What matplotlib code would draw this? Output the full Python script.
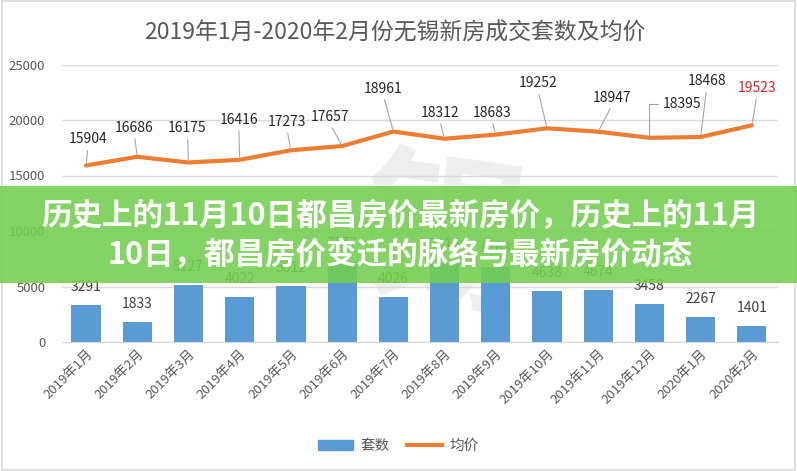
import matplotlib
matplotlib.use("Agg")
import matplotlib.pyplot as plt
from matplotlib.patches import Rectangle
from matplotlib.lines import Line2D
from matplotlib.patches import Patch
import numpy as np

plt.rcParams['font.family'] = ['Noto Sans CJK SC', 'DejaVu Sans']

# data
months = ["2019年1月", "2019年2月", "2019年3月", "2019年4月", "2019年5月", "2019年6月",
          "2019年7月", "2019年8月", "2019年9月", "2019年10月", "2019年11月", "2019年12月",
          "2020年1月", "2020年2月"]
units = [3291, 1833, 5127, 4022, 5012, 7177, 4026, 7114, 6763, 4638, 4674, 3458, 2267, 1401]
avg_price = [15904, 16686, 16175, 16416, 17273, 17657, 18961, 18312, 18683, 19252,
             18947, 18395, 18468, 19523]

title = "2019年1月-2020年2月份无锡新房成交套数及均价"
banner_line1 = "历史上的11月10日都昌房价最新房价，历史上的11月"
banner_line2 = "10日，都昌房价变迁的脉络与最新房价动态"

# label offsets for the price labels (pixels)
price_offsets = [(2, 26), (-3, 29), (-1, 34), (-1, 40), (-4, 28), (-12, 29), (-10, 43),
                 (-5, 26), (-4, 22), (-9, 45), (14, 34), (33, 34), (6, 56), (5, 37)]

bar_color = "#5b9bd5"
line_color = "#ed7d31"
grid_color = "#d9d9d9"
text_gray = "#595959"

fig = plt.figure(figsize=(7.97, 4.71), dpi=100)
ax = fig.add_axes([62 / 797, 1 - 342 / 471, (778 - 62) / 797, 277.5 / 471])

x = np.arange(len(months))

# faint watermark
ax.text(6.95, 9000, "锡", fontsize=120, color="#eeeeee", ha="center", va="center",
        rotation=-8, zorder=0.5, fontweight="bold")

ax.bar(x, units, width=0.57, color=bar_color, zorder=2)
ax.plot(x, avg_price, color=line_color, lw=3, zorder=3, solid_capstyle="round")

for xi, v in zip(x, units):
    ax.annotate(str(v), (xi, v), xytext=(0, 18), textcoords="offset pixels",
                ha="center", va="center", fontsize=10, color="#404040", zorder=4)

for i, (xi, v) in enumerate(zip(x, avg_price)):
    dx, dy = price_offsets[i]
    color = "#e0202a" if i == len(avg_price) - 1 else "#262626"
    if i == 11:
        arrow = dict(arrowstyle="-", color="#a6a6a6", lw=0.8, shrinkA=2, shrinkB=1,
                     relpos=(0, 0.5), connectionstyle="angle,angleA=180,angleB=90,rad=0")
    else:
        arrow = dict(arrowstyle="-", color="#a6a6a6", lw=0.8, shrinkA=1, shrinkB=2,
                     relpos=(0.5, 0))
    ax.annotate(str(v), (xi, v), xytext=(dx, dy), textcoords="offset pixels",
                ha="center", va="center", fontsize=10, color=color,
                arrowprops=arrow, zorder=4)

ax.set_xlim(-0.47, 13.51)
ax.set_ylim(0, 25000)
ax.set_yticks(range(0, 25001, 5000))
ax.yaxis.grid(True, color=grid_color, lw=1, zorder=0)
ax.set_axisbelow(True)
for s in ["top", "right", "left"]:
    ax.spines[s].set_visible(False)
ax.spines["bottom"].set_color(grid_color)
ax.tick_params(axis="y", length=0, pad=12, labelsize=9.5, labelcolor=text_gray)
ax.tick_params(axis="x", length=0, pad=4)
ax.set_xticks(x)
ax.set_xticklabels(months, rotation=45, ha="right", va="top", rotation_mode="anchor",
                   fontsize=9.5, color=text_gray)

fig.text(0.495, 0.93, title, ha="center", va="center", fontsize=16.5, color=text_gray)

# legend
handles = [Patch(color=bar_color), Line2D([0], [0], color=line_color, lw=3)]
fig.legend(handles, ["套数", "均价"], loc="center", bbox_to_anchor=(0.5, 0.053), ncol=2,
           frameon=False, fontsize=10.5, labelcolor=text_gray, handlelength=2.4,
           columnspacing=1.2, handletextpad=0.5)

# border
fig.patches.append(Rectangle((0.002, 0.003), 0.996, 0.994, transform=fig.transFigure,
                             fill=False, edgecolor="#d9d9d9", lw=1.2))

# green banner
fig.patches.append(Rectangle((0, 1 - 283 / 471), 1, 97 / 471, transform=fig.transFigure,
                             facecolor="#72cf4e", alpha=0.88, edgecolor="none", zorder=10))
fig.text(0.502, 1 - 216 / 471, banner_line1, ha="center", va="center", fontsize=22,
         fontweight="heavy", color="white", zorder=11)
fig.text(0.502, 1 - 255 / 471, banner_line2, ha="center", va="center", fontsize=22,
         fontweight="heavy", color="white", zorder=11)

fig.savefig("out.png", dpi=100)
